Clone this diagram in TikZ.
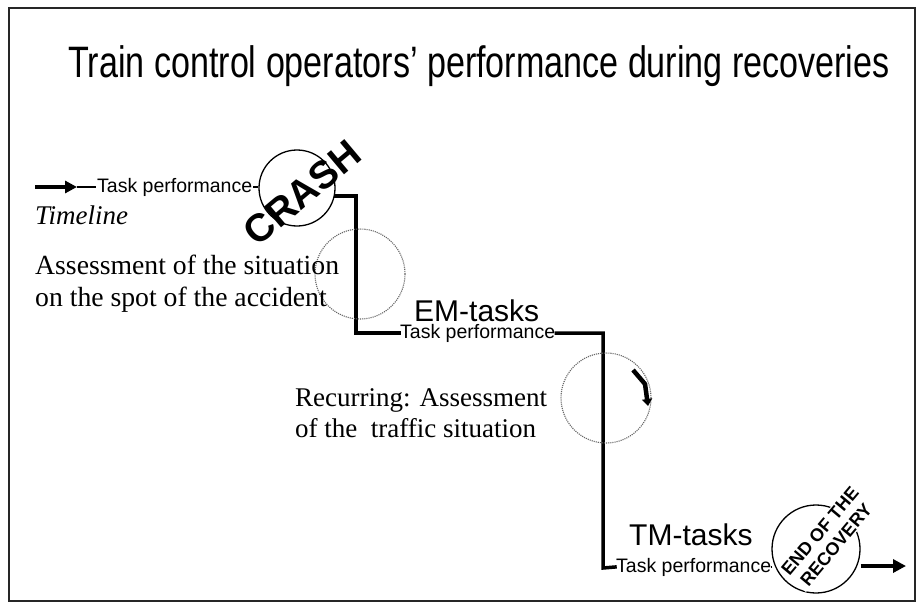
\documentclass[tikz,border=0pt]{standalone}
\usepackage{fontspec}
\setmainfont{Liberation Serif}
\setsansfont{Liberation Sans}
\usetikzlibrary{arrows.meta}
\tikzset{
  frame/.style={draw=black!85, line width=1.6pt},
  perf/.style={font=\sffamily\fontsize{19.5}{22}\selectfont, inner sep=1pt},
  phase/.style={font=\sffamily\fontsize{30}{34}\selectfont, inner sep=0pt},
  remark/.style={align=left, inner sep=0pt},
  stair/.style={line width=3.5pt, line cap=rect},
  thinline/.style={line width=1.4pt},
  bigarrow/.style={line width=4.5pt, -{Triangle[length=13pt,width=13pt]}},
  ring/.style={circle, draw, line width=1.3pt, inner sep=0pt},
  loopring/.style={circle, draw=black!60, densely dotted, line width=1.1pt, inner sep=0pt}
}
\begin{document}
\begin{tikzpicture}[x=1pt,y=-1pt]
\useasboundingbox (0,0) rectangle (917,607);
\fill[white] (0,0) rectangle (917,607);

% border of the figure
\draw[frame] (9,8) rectangle (915,601);

% title
\node[font=\sffamily\fontsize{44}{48}\selectfont, inner sep=0pt] (title) at (479,66)
  {\scalebox{0.775}[1]{Train control operators' performance during recoveries}};

% start of the timeline
\node[perf, anchor=west] (tp1) at (96,187) {Task performance};
\node[font=\itshape\fontsize{27}{31}\selectfont, anchor=west, inner sep=0pt] (timeline) at (35,215) {Timeline};
\coordinate (start) at (35,187);
\coordinate (tip) at (77,187);
\draw[line width=4.5pt, -{Triangle[length=12pt,width=12pt]}] (start) -- (tip);
\draw[thinline] (tip) -- (tp1.west);

% crash event
\node[ring, minimum size=76pt] (crash) at (297,188) {};
\node[font=\sffamily\bfseries\fontsize{39}{42}\selectfont, rotate=40, inner sep=0pt] (crashtxt) at (302,193) {CRASH};
\draw[thinline] (tp1.east) -- (crash.west |- tp1.east);

% emergency management phase
\coordinate (c1) at (356,333);
\node[perf, anchor=west] (tp2) at (399,333) {Task performance};
\draw[stair] (crash.east |- 0,196) -- (356,196) -- (c1) -- (tp2.west);
\node[loopring, minimum size=90pt] (loop1) at (360,274) {};
\node[remark, font=\fontsize{27.7}{32}\selectfont, anchor=west] (assess) at (35,284) {Assessment of the situation\\on the spot of the accident};
\node[phase, anchor=west] (em) at (414,311) {EM-tasks};

% traffic management phase
\coordinate (c2) at (603,568);
\node[perf, anchor=west] (tp3) at (615,567) {Task performance};
\draw[stair] (tp2.east) -| (c2) -- (tp3.west);
\node[loopring, minimum size=90pt] (loop2) at (606,398) {};
\coordinate (r1) at (633,370);
\coordinate (r2) at (645,384);
\coordinate (r3) at (648,406);
\draw[line width=4.5pt, -{Triangle[length=7pt,width=10pt]}] (r1) -- (r2) -- (r3);
\node[remark, font=\fontsize{27}{31}\selectfont, anchor=west] (recur) at (295,413) {Recurring: Assessment\\of the\ \ traffic situation};
\node[phase, anchor=west] (tm) at (629,535) {TM-tasks};

% end of the recovery
\node[ring, minimum size=88pt] (endc) at (816,549) {};
\node[font=\sffamily\bfseries\fontsize{18}{21}\selectfont, rotate=50, fill=white, align=center, inner sep=1pt] (endtxt) at (828,538) {END OF THE\\RECOVERY};
\draw[thinline] (tp3.east) -- (endc.west |- tp3.east);
\coordinate (finish) at (906,566);
\draw[bigarrow] (endc.east |- finish) -- (finish);
\end{tikzpicture}
\end{document}
